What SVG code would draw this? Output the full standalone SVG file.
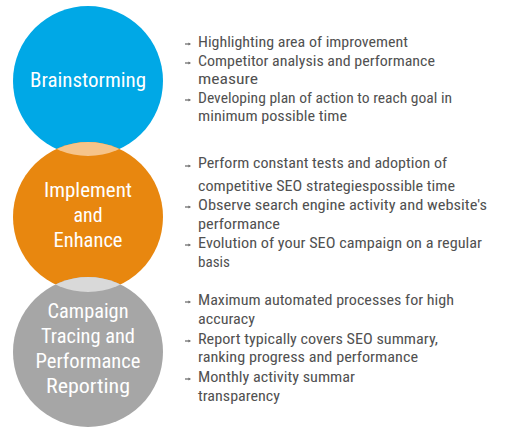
<svg xmlns="http://www.w3.org/2000/svg" xmlns:xlink="http://www.w3.org/1999/xlink" width="511" height="435" viewBox="0 0 511 435">
<style>
.lbl{font-family:"Liberation Sans Narrow","Roboto Condensed","DejaVu Sans Condensed","Liberation Sans",Arial,sans-serif;fill:#ffffff;text-anchor:middle;font-size:20px}
.txt{font-family:"Liberation Sans Narrow","Roboto Condensed","DejaVu Sans Condensed","Liberation Sans",Arial,sans-serif;fill:#515151;font-size:14px}
.blt{fill:none;stroke:#666;stroke-width:1.2}
</style>
<defs>
<clipPath id="clipBlue"><circle cx="88" cy="81" r="75"/></clipPath>
<clipPath id="clipOrange"><circle cx="88" cy="217" r="75"/></clipPath>
<g id="bullet"><path class="blt" d="M0,0 H4"/><path d="M3.5,-1.6 L6,0 L3.5,1.6 Z" fill="#666"/></g>
</defs>
<rect width="511" height="435" fill="#ffffff"/>
<g id="connectors"/>
<g id="node-brainstorming">
<circle cx="88" cy="81" r="75" fill="#00a8e6"/>
<text class="lbl" x="88" y="87" font-size="21" textLength="116" lengthAdjust="spacingAndGlyphs">Brainstorming</text>
</g>
<g id="node-implement">
<circle cx="88" cy="217" r="75" fill="#e8870f"/>
<circle cx="88" cy="217" r="75" fill="#f6c48a" clip-path="url(#clipBlue)"/>
<text class="lbl" x="88" y="197" textLength="88" lengthAdjust="spacingAndGlyphs">Implement</text>
<text class="lbl" x="88" y="222" textLength="29" lengthAdjust="spacingAndGlyphs">and</text>
<text class="lbl" x="88" y="247" textLength="69" lengthAdjust="spacingAndGlyphs">Enhance</text>
</g>
<g id="node-campaign">
<circle cx="88" cy="352" r="75" fill="#a6a6a6"/>
<circle cx="88" cy="352" r="75" fill="#d9d9d9" clip-path="url(#clipOrange)"/>
<text class="lbl" x="88" y="318" textLength="81" lengthAdjust="spacingAndGlyphs">Campaign</text>
<text class="lbl" x="88" y="343" textLength="94" lengthAdjust="spacingAndGlyphs">Tracing and</text>
<text class="lbl" x="88" y="368" textLength="105" lengthAdjust="spacingAndGlyphs">Performance</text>
<text class="lbl" x="88" y="393" textLength="84" lengthAdjust="spacingAndGlyphs">Reporting</text>
</g>
<g id="list-brainstorming">
<use xlink:href="#bullet" x="185" y="44"/>
<use xlink:href="#bullet" x="185" y="63"/>
<use xlink:href="#bullet" x="185" y="100"/>
<text class="txt" x="198" y="47" textLength="210" lengthAdjust="spacingAndGlyphs">Highlighting area of improvement</text>
<text class="txt" x="198" y="66" textLength="237" lengthAdjust="spacingAndGlyphs">Competitor analysis and performance</text>
<text class="txt" x="198" y="84" textLength="60" lengthAdjust="spacingAndGlyphs">measure</text>
<text class="txt" x="198" y="103" textLength="254" lengthAdjust="spacingAndGlyphs">Developing plan of action to reach goal in</text>
<text class="txt" x="198" y="121" textLength="149" lengthAdjust="spacingAndGlyphs">minimum possible time</text>
</g>
<g id="list-implement">
<use xlink:href="#bullet" x="185" y="166"/>
<use xlink:href="#bullet" x="185" y="207"/>
<use xlink:href="#bullet" x="185" y="245"/>
<text class="txt" x="198" y="168" textLength="249" lengthAdjust="spacingAndGlyphs">Perform constant tests and adoption of</text>
<text class="txt" x="198" y="191" textLength="257" lengthAdjust="spacingAndGlyphs">competitive SEO strategiespossible time</text>
<text class="txt" x="198" y="210" textLength="289" lengthAdjust="spacingAndGlyphs">Observe search engine activity and website's</text>
<text class="txt" x="198" y="229" textLength="82" lengthAdjust="spacingAndGlyphs">performance</text>
<text class="txt" x="198" y="248" textLength="284" lengthAdjust="spacingAndGlyphs">Evolution of your SEO campaign on a regular</text>
<text class="txt" x="198" y="267" textLength="32" lengthAdjust="spacingAndGlyphs">basis</text>
</g>
<g id="list-campaign">
<use xlink:href="#bullet" x="185" y="302"/>
<use xlink:href="#bullet" x="185" y="341"/>
<use xlink:href="#bullet" x="185" y="379"/>
<text class="txt" x="198" y="305" textLength="256" lengthAdjust="spacingAndGlyphs">Maximum automated processes for high</text>
<text class="txt" x="198" y="324" textLength="57" lengthAdjust="spacingAndGlyphs">accuracy</text>
<text class="txt" x="198" y="344" textLength="240" lengthAdjust="spacingAndGlyphs">Report typically covers SEO summary,</text>
<text class="txt" x="198" y="362" textLength="220" lengthAdjust="spacingAndGlyphs">ranking progress and performance</text>
<text class="txt" x="198" y="382" textLength="157" lengthAdjust="spacingAndGlyphs">Monthly activity summar</text>
<text class="txt" x="198" y="401" textLength="82" lengthAdjust="spacingAndGlyphs">transparency</text>
</g>
</svg>
